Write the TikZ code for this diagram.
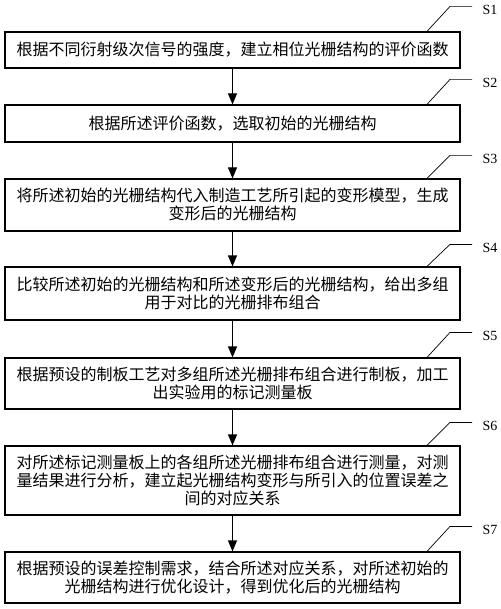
\documentclass[tikz,border=0pt]{standalone}
\usepackage{fontspec}
\newfontfamily\cjk{Noto Sans CJK SC}
\newfontfamily\lab{Liberation Serif}
\usetikzlibrary{arrows.meta}
\begin{document}
\begin{tikzpicture}[x=1pt,y=-1pt,
  stepbox/.style={draw,line width=1.2pt,minimum width=455pt,inner sep=0pt},
  txt/.style={inner sep=0pt,anchor=center,text height=14pt,text depth=2pt,
    font=\cjk\fontsize{16pt}{18pt}\selectfont},
  flow/.style={line width=1.2pt,-{Triangle[length=11pt,width=9pt]}},
  leader/.style={line width=0.7pt},
  steplab/.style={anchor=west,inner sep=0pt,font=\lab\fontsize{14pt}{14pt}\selectfont}]
\useasboundingbox (0,0) rectangle (500,609);
% boxes
\node[stepbox,minimum height=36pt] (b1) at (232.5,50) {};
\node[stepbox,minimum height=37pt] (b2) at (232.5,123.5) {};
\node[stepbox,minimum height=52pt] (b3) at (232.5,205) {};
\node[stepbox,minimum height=53pt] (b4) at (232.5,293.5) {};
\node[stepbox,minimum height=51pt] (b5) at (232.5,383.5) {};
\node[stepbox,minimum height=69pt] (b6) at (232.5,480.5) {};
\node[stepbox,minimum height=51pt] (b7) at (232.5,577.5) {};
% texts
\node[txt] (t1) at (232.5,50) {根据不同衍射级次信号的强度，建立相位光栅结构的评价函数};
\node[txt] (t2) at (232.5,123.5) {根据所述评价函数，选取初始的光栅结构};
\node[txt] (t3a) at (232.5,196) {将所述初始的光栅结构代入制造工艺所引起的变形模型，生成};
\node[txt] (t3b) at (232.5,214) {变形后的光栅结构};
\node[txt] (t4a) at (232.5,284.5) {比较所述初始的光栅结构和所述变形后的光栅结构，给出多组};
\node[txt] (t4b) at (232.5,302.5) {用于对比的光栅排布组合};
\node[txt] (t5a) at (232.5,374.5) {根据预设的制板工艺对多组所述光栅排布组合进行制板，加工};
\node[txt] (t5b) at (232.5,392.5) {出实验用的标记测量板};
\node[txt] (t6a) at (232.5,462.5) {对所述标记测量板上的各组所述光栅排布组合进行测量，对测};
\node[txt] (t6b) at (232.5,480.5) {量结果进行分析，建立起光栅结构变形与所引入的位置误差之};
\node[txt] (t6c) at (232.5,498.5) {间的对应关系};
\node[txt] (t7a) at (232.5,568.5) {根据预设的误差控制需求，结合所述对应关系，对所述初始的};
\node[txt] (t7b) at (232.5,586.5) {光栅结构进行优化设计，得到优化后的光栅结构};
% arrows
\foreach \a/\b in {b1/b2,b2/b3,b3/b4,b4/b5,b5/b6,b6/b7}
  \draw[flow] (\a.south) -- (\b.north);
% step labels
\foreach \n/\r/\t in {b1/25/S1,b2/25/S2,b3/23/S3,b4/22/S4,b5/25/S5,b6/23/S6,b7/25/S7}{
  \coordinate (\n s) at ([xshift=194.5pt]\n.north);
  \coordinate (\n m) at ([xshift=217.5pt,yshift=\r pt]\n.north);
  \coordinate (\n e) at ([xshift=239.5pt,yshift=\r pt]\n.north);
  \node[steplab] (\n l) at ([xshift=250pt,yshift=\r pt-4pt]\n.north) {\t};
  \draw[leader] (\n s) -- (\n m) -- (\n e);
}
\end{tikzpicture}
\end{document}
